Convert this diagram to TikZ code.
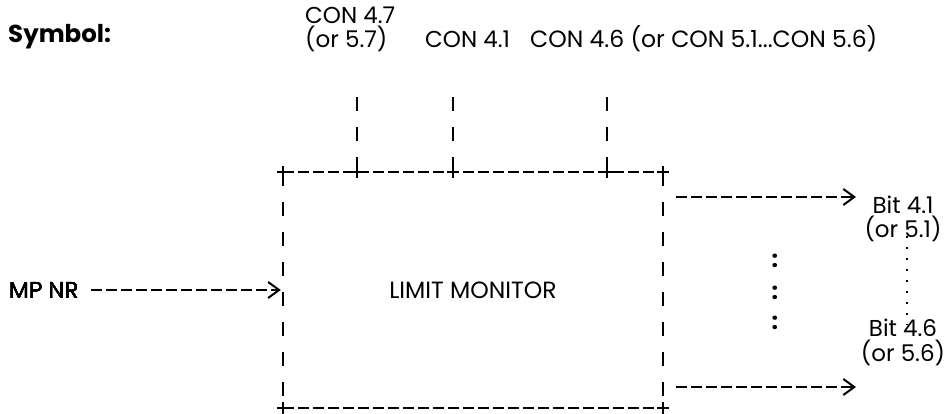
\documentclass[tikz,border=0pt]{standalone}
\usepackage{fontspec}
\setmainfont{Poppins}
\usetikzlibrary{arrows.meta,positioning}
\tikzset{
  lbl/.style={inner sep=0pt,font=\fontsize{23}{23}\selectfont},
  hdash/.style={line width=2pt,dash pattern=on 11pt off 4pt},
  vdash/.style={line width=2pt,dash pattern=on 14pt off 16pt},
  sigarrow/.style={hdash,-{Straight Barb[length=11pt,width=16pt,line width=2pt]}},
  plusmark/.style={line width=2pt}
}
\newcommand{\plusat}[1]{\draw[plusmark] (#1) ++(-6,0) -- ++(12,0) (#1) ++(0,-6) -- ++(0,12);}

\begin{document}
\begin{tikzpicture}[x=1pt,y=-1pt]
\useasboundingbox (0,0) rectangle (946,414);
\node[lbl,font=\fontsize{24.5}{20}\selectfont\bfseries,anchor=west] (symbol) at (8,37) {Symbol:};
% block
\node[lbl,font=\fontsize{23.5}{23}\selectfont,minimum width=380pt,minimum height=236pt] (mon) at (473,290) {LIMIT MONITOR};
\draw[hdash] (mon.north west) -- (mon.north east);
\draw[hdash] (mon.south west) -- (mon.south east);
\draw[vdash] (mon.north west) -- (mon.south west);
\draw[vdash] (mon.north east) -- (mon.south east);
% connections on top
\node[lbl,anchor=base west] (con47) at (305,24) {CON 4.7};
\node[lbl,anchor=base west] (or57) at (305,48) {(or 5.7)};
\node[lbl,anchor=base west] (con41) at (425,48) {CON 4.1};
\node[lbl,font=\fontsize{23.5}{23}\selectfont,anchor=base west] (con46) at (530,48) {CON 4.6 (or CON 5.1...CON 5.6)};
\coordinate (j47) at (357,172);
\coordinate (j41) at (453,172);
\coordinate (j46) at (607,172);
\draw[vdash] (357,97) -- (j47);
\draw[vdash] (453,97) -- (j41);
\draw[vdash] (607,97) -- (j46);
\foreach \p in {mon.north west,mon.north east,mon.south west,mon.south east,j47,j41,j46}
  \plusat{\p}
% input
\node[lbl,anchor=west] (mpnr) at (9,290) {MP NR};
\draw[sigarrow,shorten >=2pt] (91,290) -- (mpnr.east -| mon.west);
% outputs
\node[lbl,anchor=base] (bit41) at (903,214) {Bit 4.1};
\node[lbl,anchor=base] (or51) at (903,238) {(or 5.1)};
\node[lbl,anchor=base] (bit46) at (903,337) {Bit 4.6};
\node[lbl,anchor=base] (or56) at (903,361) {(or 5.6)};
\coordinate (o41) at (676,197);
\coordinate (o46) at (676,387);
\draw[sigarrow] (o41) -- (856,197);
\draw[sigarrow] (o46) -- (856,387);
\draw[line width=1.6pt,dash pattern=on 2pt off 9pt] ([xshift=4pt,yshift=6pt]or51.south) -- ([xshift=4pt,yshift=-6pt]bit46.north);
\foreach \y in {261,293,323}
  \node[lbl,font=\fontsize{23}{20}\selectfont\bfseries] at (775,\y) {:};
\end{tikzpicture}
\end{document}
